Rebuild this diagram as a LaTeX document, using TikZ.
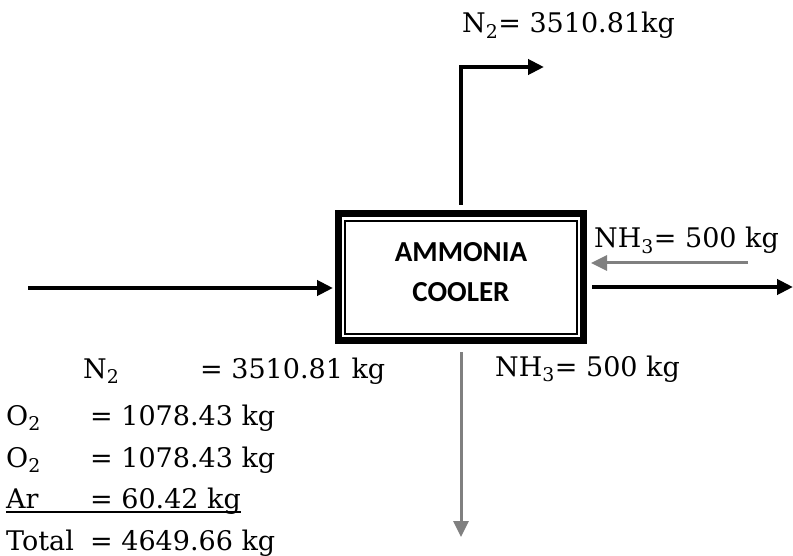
\documentclass[tikz,border=0pt]{standalone}
\usepackage{fontspec}
\setmainfont{DejaVu Serif}
\newfontfamily\coolerfont{Carlito}
\usetikzlibrary{arrows.meta,calc}

\tikzset{
  flow/.style={line width=4pt, -{Triangle[length=16pt,width=15pt]}},
  flowgray/.style={flow, line width=3pt, draw=gray},
  lbl/.style={anchor=base west, inner sep=0pt, font=\fontsize{27}{30}\selectfont},
  cooler/.style={draw, line width=7pt, minimum width=245pt, minimum height=127pt},
  coolertext/.style={align=center, font=\coolerfont\bfseries\fontsize{29}{40}\selectfont}
}

\begin{document}
\begin{tikzpicture}[x=1pt,y=1pt]
\useasboundingbox (0,0) rectangle (793,-556);

% unit
\node[cooler] (box) at (461,-277) {};
\draw[line width=2pt] ($(box.south west)+(10,10)$) rectangle ($(box.north east)+(-10,-11)$);
\node[coolertext] (boxtext) at ([yshift=5pt]box.center) {AMMONIA\\COOLER};

% stream ends
\coordinate (feed) at (28,-288);
\coordinate (prod) at (793,-287);
\coordinate (nh3in) at (748,-263);
\coordinate (nh3out) at (461,-537);
\coordinate (n2out) at (544,-67);

\draw[flow, shorten >=2pt] (feed) -- (feed -| box.west);
\draw[flow, shorten <=5pt] (prod -| box.east) -- (prod);
\draw[flowgray, shorten >=4pt] (nh3in) -- (nh3in -| box.east);
\draw[flowgray, shorten <=8pt] (box.south) -- (nh3out);
\draw[flow, shorten <=5pt] (box.north) |- (n2out);

% labels
\node[lbl] (n2top) at (462,-33) {N\textsubscript{2}= 3510.81kg};
\node[lbl] (nh3a) at (594,-248) {NH\textsubscript{3}= 500 kg};
\node[lbl] (nh3b) at (495,-376) {NH\textsubscript{3}= 500 kg};

\node[lbl] (n2) at (83,-378) {N\textsubscript{2}};
\node[lbl] (n2v) at (200,-378) {= 3510.81 kg};
\node[lbl] (o2a) at (6,-425) {O\textsubscript{2}};
\node[lbl] (o2av) at (90,-425) {= 1078.43 kg};
\node[lbl] (o2b) at (6,-467) {O\textsubscript{2}};
\node[lbl] (o2bv) at (90,-467) {= 1078.43 kg};
\node[lbl] (ar) at (6,-508) {Ar};
\node[lbl] (arv) at (90,-508) {= 60.42 kg};
\draw[line width=2pt] ([yshift=-4pt]ar.base west) -- ([yshift=-4pt]arv.base east);
\node[lbl] (tot) at (6,-550) {Total};
\node[lbl] (totv) at (90,-550) {= 4649.66 kg};
\end{tikzpicture}
\end{document}
